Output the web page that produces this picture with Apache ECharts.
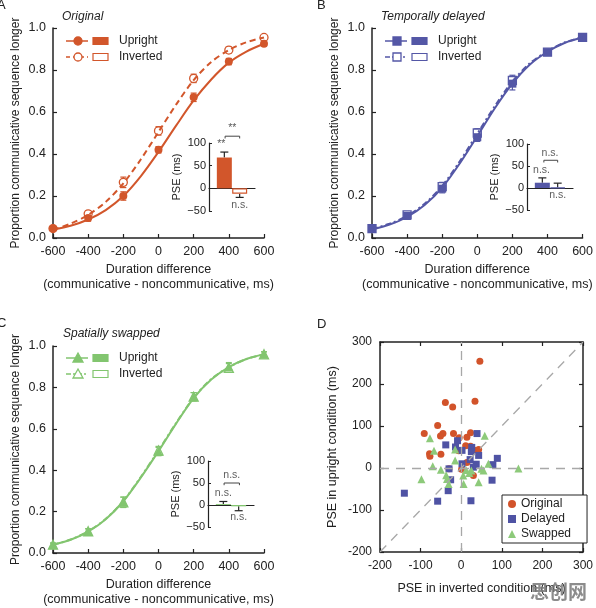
<!DOCTYPE html>
<html>
<head>
<meta charset="utf-8">
<title>PSE figure</title>
<script src="https://cdn.jsdelivr.net/npm/echarts@6/dist/echarts.min.js"></script>
</head>
<body style="margin:0;background:#fff">
<div id="main" style="width:596px;height:608px;"></div>
<script type="text/javascript">
// durations where the data were sampled
var durations = [-600, -400, -200, 0, 200, 400, 600];
// fitted curves read at 100 ms steps
var durationsFine = [-600, -500, -400, -300, -200, -100, 0, 100, 200, 300, 400, 500, 600];

// A  Original
var aUpMean = [0.045, 0.095, 0.20, 0.42, 0.67, 0.84, 0.925];
var aUpErr = [0.008, 0.015, 0.02, 0.015, 0.02, 0.015, 0.01];
var aInvMean = [0.045, 0.115, 0.265, 0.51, 0.76, 0.895, 0.955];
var aInvErr = [0.008, 0.015, 0.025, 0.02, 0.02, 0.015, 0.008];
var aUpFit = [0.04, 0.058, 0.088, 0.133, 0.20, 0.295, 0.41, 0.535, 0.655, 0.755, 0.835, 0.888, 0.925];
var aInvFit = [0.04, 0.068, 0.11, 0.172, 0.26, 0.375, 0.505, 0.635, 0.752, 0.838, 0.895, 0.932, 0.955];

// B  Temporally delayed
var bUpMean = [0.045, 0.105, 0.235, 0.48, 0.735, 0.885, 0.955];
var bUpErr = [0.008, 0.015, 0.02, 0.02, 0.03, 0.012, 0.008];
var bInvMean = [0.045, 0.11, 0.245, 0.50, 0.75, 0.885, 0.955];
var bInvErr = [0.008, 0.015, 0.02, 0.02, 0.025, 0.012, 0.008];
var bUpFit = [0.04, 0.064, 0.10, 0.157, 0.24, 0.355, 0.485, 0.618, 0.735, 0.826, 0.887, 0.93, 0.955];
var bInvFit = [0.043, 0.068, 0.105, 0.163, 0.248, 0.365, 0.497, 0.628, 0.745, 0.832, 0.89, 0.932, 0.956];

// C  Spatially swapped
var cUpMean = [0.04, 0.105, 0.245, 0.49, 0.755, 0.90, 0.96];
var cUpErr = [0.008, 0.012, 0.025, 0.02, 0.02, 0.02, 0.012];
var cInvMean = [0.04, 0.105, 0.245, 0.495, 0.755, 0.895, 0.96];
var cInvErr = [0.008, 0.012, 0.025, 0.02, 0.02, 0.02, 0.012];
var cUpFit = [0.04, 0.064, 0.103, 0.163, 0.25, 0.365, 0.492, 0.625, 0.748, 0.838, 0.898, 0.937, 0.96];
var cInvFit = [0.04, 0.065, 0.105, 0.165, 0.252, 0.368, 0.496, 0.628, 0.75, 0.84, 0.898, 0.937, 0.96];

// inset PSE bars: [upright, inverted] and one-sided error
var pseA = [68, -12], pseErrA = [12, -8];
var pseB = [12, 1], pseErrB = [11, 10];
var pseC = [2, -3], pseErrC = [6, -10];
// inset annotations [x, y, text]
var notesA = [[0.8, 97, '**'], [1.52, 133, '**'], [2.0, -38, 'n.s.']];
var notesB = [[0.95, 41, 'n.s.'], [1.5, 80, 'n.s.'], [2.0, -17, 'n.s.']];
var notesC = [[1.0, 27, 'n.s.'], [1.55, 68, 'n.s.'], [2.0, -28, 'n.s.']];
var bracketA = [[1.05, 110], [1.05, 115], [2.0, 115], [2.0, 110]];
var bracketB = [[1.1, 58], [1.1, 63], [2.0, 63], [2.0, 58]];
var bracketC = [[1.05, 45], [1.05, 50], [2.05, 50], [2.05, 45]];

// D  individual PSEs [inverted, upright]
var pseOriginal = [[46, 254], [-39, 156], [-21, 145], [34, 159], [-58, 101], [-91, 82], [-45, 82], [-51, 76],
  [-19, 82], [-5, 72], [14, 73], [23, 84], [-78, 34], [-77, 28], [-50, 33], [-6, 41], [11, 53], [23, 52],
  [27, 46], [32, 42], [43, 44], [-30, -2], [1, -3], [30, -18], [14, 13]];
var pseDelayed = [[39, 82], [-38, 55], [-14, 50], [-9, 65], [2, 42], [26, 49], [25, 39], [43, 30], [22, 20],
  [2, 10], [37, 9], [30, 2], [89, 23], [78, 8], [-30, -2], [-26, -28], [76, -29], [-32, -54], [24, -78],
  [-58, -79], [-140, -60]];
var pseSwapped = [[58, 77], [-77, 71], [-67, 41], [-15, 44], [-70, 4], [-50, -4], [-98, -27], [-37, -17],
  [-35, -26], [-31, -38], [5, -18], [6, -38], [43, -34], [20, -12], [25, -6], [50, -2], [55, -6], [67, 10],
  [141, -1], [-15, 18], [12, -5]];

var orange = '#d2562b', blue = '#5457a6', green = '#82c56f';
var dRed = '#d2532a', dBlue = '#4f53a4', dGreen = '#8dca7a';
var font = 'Liberation Sans, Arial, sans-serif';
var axisCol = '#222';

var myChart = echarts.init(document.getElementById('main'));

function zip(xs, ys) { return xs.map(function (x, i) { return [x, ys[i]]; }); }
function errData(xs, m, e) { return xs.map(function (x, i) { return [x, m[i] - e[i], m[i] + e[i]]; }); }

function errRender(color, cap) {
  return function (params, api) {
    var x = api.value(0);
    var p1 = api.coord([x, api.value(1)]), p2 = api.coord([x, api.value(2)]);
    var st = { stroke: color, lineWidth: 1.2 };
    var kids = [
      { type: 'line', shape: { x1: p1[0], y1: p1[1], x2: p2[0], y2: p2[1] }, style: st },
      { type: 'line', shape: { x1: p2[0] - cap, y1: p2[1], x2: p2[0] + cap, y2: p2[1] }, style: st }
    ];
    if (api.value(3) !== 1) {
      kids.push({ type: 'line', shape: { x1: p1[0] - cap, y1: p1[1], x2: p1[0] + cap, y2: p1[1] }, style: st });
    }
    return { type: 'group', children: kids };
  };
}

var grids = [
  { left: 53, top: 28, width: 211, height: 210 },
  { left: 372, top: 28, width: 211, height: 210 },
  { left: 53, top: 346, width: 211, height: 210 },
  { left: 380, top: 342, width: 210, height: 210 },
  { left: 209, top: 143, width: 46, height: 68 },
  { left: 527, top: 144, width: 46, height: 66 },
  { left: 208, top: 461, width: 46, height: 66 }
];

var xAxes = [], yAxes = [];
[0, 1, 2].forEach(function (g) {
  xAxes.push({
    type: 'value', gridIndex: g, min: -600, max: 600, interval: 200,
    name: 'Duration difference\n(communicative - noncommunicative, ms)',
    nameLocation: 'middle', nameGap: 24,
    nameTextStyle: { fontSize: 12.5, color: '#222', fontFamily: font, lineHeight: 15, verticalAlign: 'top' },
    axisLine: { onZero: false, lineStyle: { color: axisCol, width: 1.5 } },
    axisTick: { inside: true, length: 4, lineStyle: { color: axisCol, width: 1.2 } },
    axisLabel: { fontSize: 12.5, color: '#222', fontFamily: font, margin: 7 },
    splitLine: { show: false }
  });
  yAxes.push({
    type: 'value', gridIndex: g, min: 0, max: 1, interval: 0.2,
    name: 'Proportion communicative sequence longer',
    nameLocation: 'middle', nameGap: 31,
    nameTextStyle: { fontSize: 12, color: '#222', fontFamily: font },
    axisLine: { show: true, onZero: false, lineStyle: { color: axisCol, width: 1.5 } },
    axisTick: { show: true, inside: true, length: 4, lineStyle: { color: axisCol, width: 1.2 } },
    axisLabel: { fontSize: 12.5, color: '#222', fontFamily: font, margin: 7,
      formatter: function (v) { return v.toFixed(1); } },
    splitLine: { show: false }
  });
});
// D box axes
var dTick = { show: true, inside: true, length: 4, lineStyle: { color: axisCol, width: 1.2 } };
var dLine = { show: true, onZero: false, lineStyle: { color: axisCol, width: 1.5 } };
xAxes.push({
  type: 'value', gridIndex: 3, min: -200, max: 300, interval: 100, position: 'bottom',
  name: 'PSE in inverted condition (ms)', nameLocation: 'middle', nameGap: 30,
  nameTextStyle: { fontSize: 12.5, color: '#222', fontFamily: font },
  axisLine: dLine, axisTick: dTick,
  axisLabel: { fontSize: 12, color: '#222', fontFamily: font, margin: 8 }, splitLine: { show: false }
});
xAxes.push({
  type: 'value', gridIndex: 3, min: -200, max: 300, interval: 100, position: 'top',
  axisLine: dLine, axisTick: dTick, axisLabel: { show: false }, splitLine: { show: false }
});
yAxes.push({
  type: 'value', gridIndex: 3, min: -200, max: 300, interval: 100, position: 'left',
  name: 'PSE in upright condition (ms)', nameLocation: 'middle', nameGap: 41,
  nameTextStyle: { fontSize: 12.5, color: '#222', fontFamily: font },
  axisLine: dLine, axisTick: dTick,
  axisLabel: { fontSize: 12, color: '#222', fontFamily: font, margin: 8 }, splitLine: { show: false }
});
yAxes.push({
  type: 'value', gridIndex: 3, min: -200, max: 300, interval: 100, position: 'right',
  axisLine: dLine, axisTick: dTick, axisLabel: { show: false }, splitLine: { show: false }
});
// inset axes
[4, 5, 6].forEach(function (g) {
  xAxes.push({
    type: 'value', gridIndex: g, min: 0, max: 3,
    axisLine: { onZero: true, lineStyle: { color: axisCol, width: 1.2 } },
    axisTick: { show: false }, axisLabel: { show: false }, splitLine: { show: false }
  });
  yAxes.push({
    type: 'value', gridIndex: g, min: -50, max: 100, interval: 50,
    name: 'PSE (ms)', nameLocation: 'middle', nameGap: 27,
    nameTextStyle: { fontSize: 11, color: '#222', fontFamily: font },
    axisLine: { show: true, onZero: false, lineStyle: { color: axisCol, width: 1.2 } },
    axisTick: { show: true, inside: true, length: 3, lineStyle: { color: axisCol } },
    axisLabel: { fontSize: 11, color: '#222', fontFamily: font, margin: 3,
      formatter: function (v) { return v < 0 ? '\u2212' + (-v) : String(v); } },
    splitLine: { show: false }
  });
});

var series = [];
function addPanel(idx, color, symbol, symSize, invDash, upFit, invFit, upM, upE, invM, invE) {
  series.push({ type: 'line', xAxisIndex: idx, yAxisIndex: idx, data: zip(durationsFine, invFit),
    smooth: 0.3, showSymbol: false, silent: true,
    lineStyle: { color: color, width: 2, type: invDash } });
  series.push({ type: 'line', xAxisIndex: idx, yAxisIndex: idx, data: zip(durationsFine, upFit),
    smooth: 0.3, showSymbol: false, silent: true,
    lineStyle: { color: color, width: 2 } });
  series.push({ type: 'custom', xAxisIndex: idx, yAxisIndex: idx, renderItem: errRender(color, 3),
    data: errData(durations, invM, invE), encode: { x: 0, y: [1, 2] }, silent: true });
  series.push({ type: 'custom', xAxisIndex: idx, yAxisIndex: idx, renderItem: errRender(color, 3),
    data: errData(durations, upM, upE), encode: { x: 0, y: [1, 2] }, silent: true });
  series.push({ type: 'scatter', xAxisIndex: idx, yAxisIndex: idx, data: zip(durations, invM),
    symbol: symbol, symbolSize: symSize, clip: false, silent: true,
    itemStyle: { color: '#fff', borderColor: color, borderWidth: 1.3, opacity: 1 } });
  series.push({ type: 'scatter', xAxisIndex: idx, yAxisIndex: idx, data: zip(durations, upM),
    symbol: symbol, symbolSize: symSize, clip: false, silent: true,
    itemStyle: { color: color, opacity: 1 } });
}
addPanel(0, orange, 'circle', 8, [6, 4], aUpFit, aInvFit, aUpMean, aUpErr, aInvMean, aInvErr);
addPanel(1, blue, 'rect', 8, [6, 3, 2, 3], bUpFit, bInvFit, bUpMean, bUpErr, bInvMean, bInvErr);
addPanel(2, green, 'triangle', 9, [6, 3, 2, 3], cUpFit, cInvFit, cUpMean, cUpErr, cInvMean, cInvErr);

function addInset(ax, color, pse, pseErr, notes, bracket) {
  series.push({ type: 'bar', xAxisIndex: ax, yAxisIndex: ax, barWidth: 15, silent: true,
    data: [{ value: [1, pse[0]], itemStyle: { color: color } },
           { value: [2, pse[1]], itemStyle: { color: '#fff', borderColor: color, borderWidth: 1.2 } }] });
  series.push({ type: 'custom', xAxisIndex: ax, yAxisIndex: ax, renderItem: errRender('#222', 4), silent: true,
    data: [[1, pse[0], pse[0] + pseErr[0], 1], [2, pse[1], pse[1] + pseErr[1], 1]], encode: { x: 0, y: [1, 2] } });
  series.push({ type: 'line', xAxisIndex: ax, yAxisIndex: ax, data: bracket, clip: false, silent: true,
    showSymbol: false, lineStyle: { color: '#444', width: 1 } });
  series.push({ type: 'scatter', xAxisIndex: ax, yAxisIndex: ax, data: notes, clip: false, silent: true,
    symbolSize: 0,
    label: { show: true, position: 'inside', fontSize: 10.5, color: '#333', fontFamily: font,
      formatter: function (p) { return p.data[2]; } } });
}
addInset(5, orange, pseA, pseErrA, notesA, bracketA);
addInset(6, blue, pseB, pseErrB, notesB, bracketB);
addInset(7, green, pseC, pseErrC, notesC, bracketC);

// D scatter
var dashed = { color: '#a8a8a8', width: 1.3, type: [9, 7] };
series.push({ type: 'line', xAxisIndex: 3, yAxisIndex: 3, data: [[-200, -200], [300, 300]], silent: true,
  showSymbol: false, lineStyle: dashed,
  markLine: { silent: true, symbol: 'none', label: { show: false }, lineStyle: dashed,
    data: [{ xAxis: 0 }, { yAxis: 0 }] } });
series.push({ name: 'Original', type: 'scatter', xAxisIndex: 3, yAxisIndex: 3, data: pseOriginal,
  symbol: 'circle', symbolSize: 7, itemStyle: { color: dRed, opacity: 1 } });
series.push({ name: 'Delayed', type: 'scatter', xAxisIndex: 3, yAxisIndex: 3, data: pseDelayed,
  symbol: 'rect', symbolSize: 7, itemStyle: { color: dBlue, opacity: 1 } });
series.push({ name: 'Swapped', type: 'scatter', xAxisIndex: 3, yAxisIndex: 3, data: pseSwapped,
  symbol: 'triangle', symbolSize: 8, itemStyle: { color: dGreen, opacity: 1 } });

// hand-drawn legends for A-C
function marker(symbol, cx, cy, fill, stroke) {
  var st = { fill: fill, stroke: stroke, lineWidth: 1.3 };
  if (symbol === 'circle') return { type: 'circle', shape: { cx: cx, cy: cy, r: 4 }, style: st };
  if (symbol === 'rect') return { type: 'rect', shape: { x: cx - 4, y: cy - 4, width: 8, height: 8 }, style: st };
  return { type: 'polygon', shape: { points: [[cx, cy - 5], [cx + 5, cy + 4], [cx - 5, cy + 4]] }, style: st };
}
function legendBlock(x, y, color, symbol, invDash) {
  var els = [];
  [0, 1].forEach(function (k) {
    var yy = y + k * 16;
    var inv = k === 1;
    els.push({ type: 'line', shape: { x1: x, y1: yy, x2: x + 22, y2: yy },
      style: { stroke: color, lineWidth: 1.5, lineDash: inv ? invDash : null } });
    els.push(marker(symbol, x + 12, yy, inv ? '#fff' : color, color));
    els.push({ type: 'rect', shape: { x: x + 27, y: yy - 3.5, width: 15, height: 7 },
      style: { fill: inv ? '#fff' : color, stroke: color, lineWidth: 1.2 } });
    els.push({ type: 'text', x: x + 53, y: yy, style: { text: inv ? 'Inverted' : 'Upright',
      fontSize: 12, fontFamily: font, fill: '#222', verticalAlign: 'middle' } });
  });
  return els;
}
function txt(x, y, s, size, style) {
  return { type: 'text', x: x, y: y, style: { text: s, fontSize: size, fontFamily: font, fill: '#222',
    fontStyle: style || 'normal', verticalAlign: 'middle' } };
}
var graphics = []
  .concat(legendBlock(66, 41, orange, 'circle', [4, 3]))
  .concat(legendBlock(385, 41, blue, 'rect', [5, 2, 2, 2]))
  .concat(legendBlock(66, 358, green, 'triangle', [5, 2, 2, 2]))
  .concat([
    txt(-3, 5, 'A', 13), txt(317, 5, 'B', 13), txt(-3, 323, 'C', 13), txt(317, 324, 'D', 13),
    txt(62, 17, 'Original', 12, 'italic'), txt(381, 17, 'Temporally delayed', 12, 'italic'),
    txt(63, 334, 'Spatially swapped', 12, 'italic'),
    { type: 'text', x: 530, y: 592, z: 100, style: { text: '思创网', fontSize: 19, fontWeight: 'bold',
      fontFamily: 'Noto Sans CJK SC', fill: 'rgba(120,120,120,0.85)', verticalAlign: 'middle' } }
  ]);

var option = {
  animation: false,
  backgroundColor: '#fff',
  grid: grids,
  xAxis: xAxes,
  yAxis: yAxes,
  legend: {
    data: [{ name: 'Original', icon: 'circle' }, { name: 'Delayed', icon: 'rect' }, { name: 'Swapped', icon: 'triangle' }],
    orient: 'vertical', left: 502, top: 495, itemWidth: 8, itemHeight: 8, itemGap: 3,
    borderColor: '#222', borderWidth: 1, padding: [3, 16, 3, 6], backgroundColor: '#fff',
    textStyle: { fontSize: 12, color: '#222', fontFamily: font }
  },
  series: series,
  graphic: graphics
};
myChart.setOption(option);
</script>
</body>
</html>
